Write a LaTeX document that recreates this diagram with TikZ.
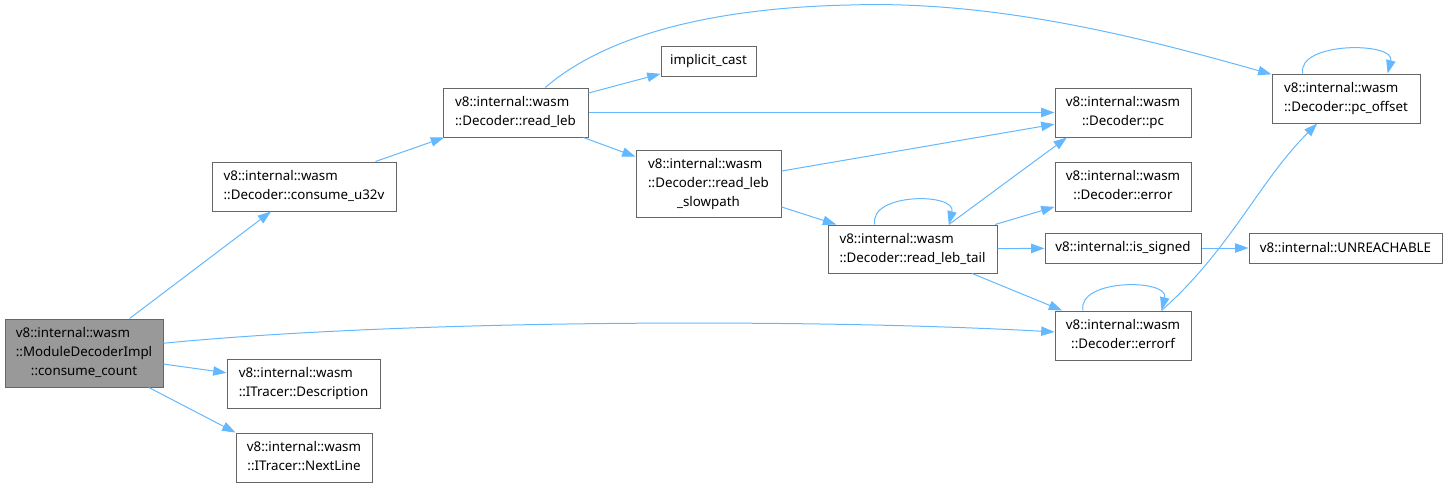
\documentclass[tikz,border=0pt]{standalone}
\usepackage{fontspec}
\setmainfont{Noto Sans}
\usetikzlibrary{arrows.meta, positioning}

\definecolor{callblue}{HTML}{63B8FF}
\definecolor{boxgray}{HTML}{666666}
\definecolor{rootgray}{HTML}{999999}
% first line flush left, the rest centred
\newcommand{\fnlabel}[2]{\begin{tabular}{@{}c@{}}\multicolumn{1}{@{}l@{}}{#1}\\#2\end{tabular}}

\begin{document}
\begin{tikzpicture}[
  x=0.75pt, y=-0.75pt,
  fn/.style 2 args={rectangle, draw=boxgray, fill=white, line width=0.75pt,
                    minimum width=#1*0.75pt, minimum height=#2*0.75pt,
                    inner sep=0pt, font=\fontsize{10}{14.25}\selectfont},
  call/.style={draw=callblue, line width=0.75pt,
               -{Triangle[length=10pt, width=7pt]}}
]
\useasboundingbox (0,0) rectangle (1448,487);

% --- Caller ---
\node[fn={158}{68}, fill=rootgray] (root) at (84,353)
  {\fnlabel{v8::internal::wasm}{::ModuleDecoderImpl\\::consume\_count}};

% --- Direct callees ---
\node[fn={184}{49}] (u32v) at (304,186.5)
  {\fnlabel{v8::internal::wasm}{::Decoder::consume\_u32v}};
\node[fn={153}{49}] (desc) at (303.5,383.5)
  {\fnlabel{v8::internal::wasm}{::ITracer::Description}};
\node[fn={136}{49}] (nextl) at (304,457.5)
  {\fnlabel{v8::internal::wasm}{::ITracer::NextLine}};

% --- read_leb chain ---
\node[fn={145}{49}] (readleb) at (515.5,112.5)
  {\fnlabel{v8::internal::wasm}{::Decoder::read\_leb}};
\node[fn={95}{30}] (icast) at (708.5,61) {implicit\_cast};
\node[fn={145}{67}] (slow) at (708.5,183.5)
  {\fnlabel{v8::internal::wasm}{::Decoder::read\_leb\\\_slowpath}};
\node[fn={169}{48}] (tail) at (912.5,249)
  {\fnlabel{v8::internal::wasm}{::Decoder::read\_leb\_tail}};

% --- Leaves ---
\node[fn={136}{49}] (pc) at (1123,112.5)
  {\fnlabel{v8::internal::wasm}{::Decoder::pc}};
\node[fn={136}{49}] (err) at (1123,186.5)
  {\fnlabel{v8::internal::wasm}{::Decoder::error}};
\node[fn={156}{30}] (signed) at (1123,248) {v8::internal::is\_signed};
\node[fn={136}{49}] (errorf) at (1123,335.5)
  {\fnlabel{v8::internal::wasm}{::Decoder::errorf}};
\node[fn={148}{49}] (pcoff) at (1346,98.5)
  {\fnlabel{v8::internal::wasm}{::Decoder::pc\_offset}};
\node[fn={193}{30}] (unr) at (1345.5,248) {v8::internal::UNREACHABLE};

% --- Straight calls ---
\foreach \src/\dst in {root/u32v, root/desc, u32v/readleb, readleb/icast,
                       readleb/pc, readleb/slow, slow/pc, slow/tail,
                       tail/err, tail/signed, tail/errorf, signed/unr}{
  \draw[call] (\src) -- (\dst);
}
\draw[call] (root.-28) -- (nextl.160);
\draw[call] (tail.34) -- (pc.204);

% --- Curved calls ---
\draw[call] (root.7) .. controls (400,320) and (800,318) .. (errorf.177);
\draw[call] (readleb.40) .. controls (600,40) and (700,8) .. (850,5)
  .. controls (1000,0) and (1150,40) .. (pcoff.162);
\draw[call] (errorf.33) .. controls (1230,250) and (1260,180) .. (pcoff.221);

% --- Recursive calls ---
\foreach \n/\a/\b in {tail/147/34, errorf/148/33, pcoff/150/31}{
  \draw[call] (\n.\a) .. controls +(-6,-32) and +(8,-32) .. (\n.\b);
}

\end{tikzpicture}
\end{document}
